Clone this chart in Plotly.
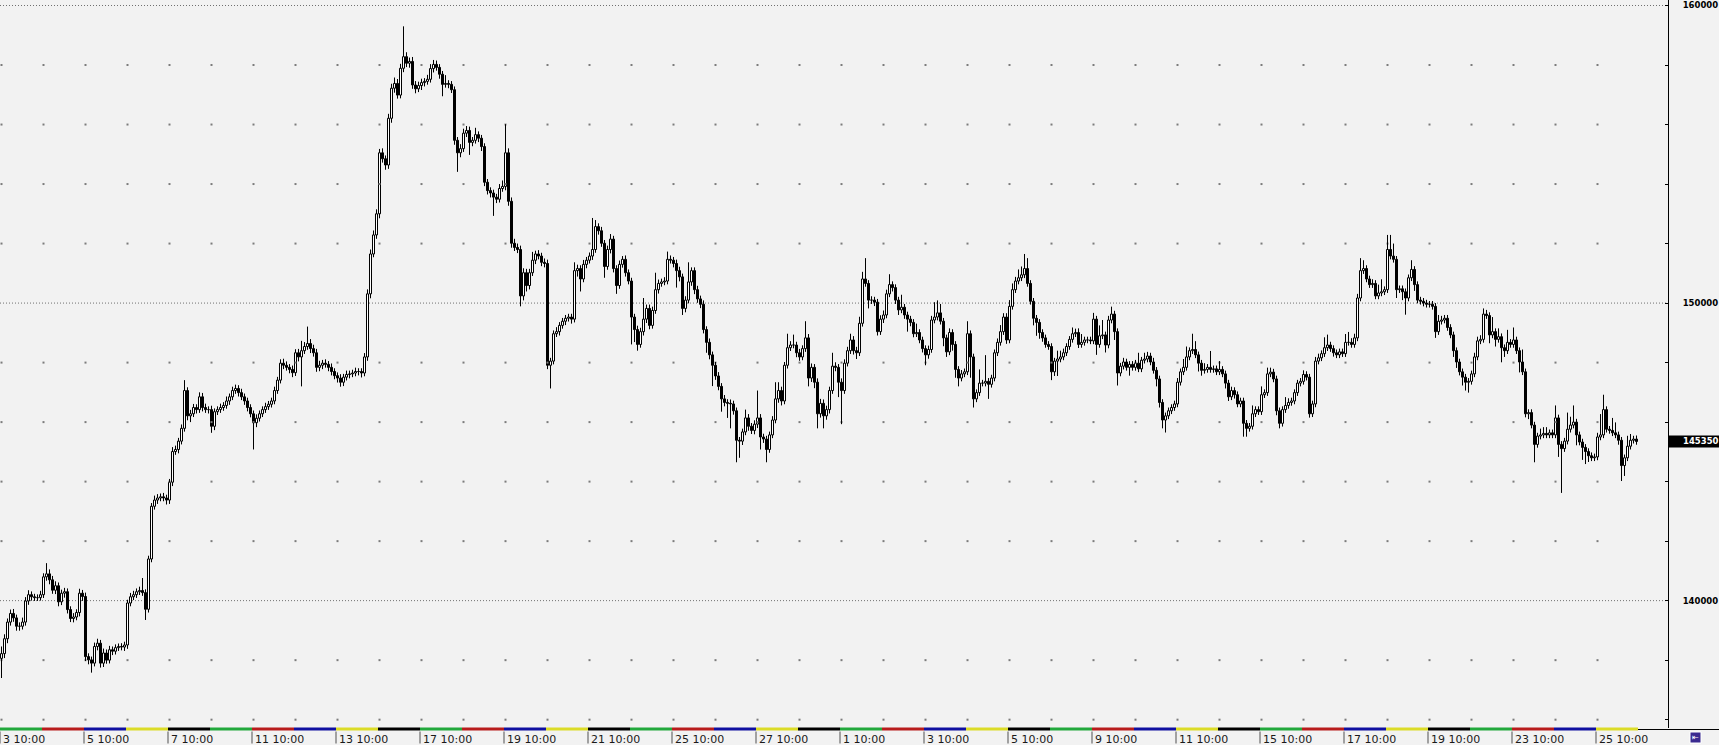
import plotly.graph_objects as go

# ---------------- data (hourly bars, 14 per trading day) -------------
BARS_PER_DAY = 14
SESSION_START = "10:00"
DAY_NUMBERS = [3, 4, 5, 6, 7, 10, 11, 12, 13, 14, 17, 18, 19, 20, 21, 24, 25, 26, 27, 28,
               1, 2, 3, 4, 5, 8, 9, 10, 11, 12, 15, 16, 17, 18, 19, 22, 23, 24, 25]
DAY_COLORS = ["#22a83c", "#b81c1c", "#1010a0", "#dcdc28", "#000000"]  # Mon..Fri strip colours

FIRST_OPEN = 138060
CLOSE = [
    138220, 138720, 139280, 139570, 139420, 139140, 139140, 139280, 139990, 140200, 140130, 140100, 140100, 140200,
    140800, 140900, 140700, 140350, 140500, 139960, 140250, 140300, 139700, 139400, 139450, 139600, 140250, 140140,
    138120, 138010, 137900, 138460, 138570, 137900, 138240, 138000, 138350, 138300, 138420, 138460, 138440, 138510,
    139920, 140130, 140200, 140300, 140340, 140270, 139710, 141400, 143170, 143380, 143450, 143490, 143450, 143380,
    143980, 145010, 145080, 145360, 145790, 147060, 146210, 146280, 146490, 146420, 146850, 146490, 146420, 146420,
    145860, 146350, 146420, 146490, 146560, 146710, 146850, 147060, 147130, 146990, 146850, 146710, 146490, 146280,
    145980, 146130, 146280, 146420, 146520, 146600, 146710, 147060, 147410, 147980, 147910, 147840, 147770, 147660,
    148330, 148190, 148400, 148540, 148640, 148470, 148330, 147840, 147910, 147980, 147940, 147840, 147700, 147560,
    147480, 147340, 147510, 147600, 147620, 147650, 147700, 147700, 147650, 148190, 150310, 151650, 152290, 153000,
    155050, 154850, 154640, 156210, 157220, 157380, 156990, 157890, 158280, 158060, 158120, 157330, 157200, 157310,
    157410, 157450, 157520, 157880, 158020, 157920, 157690, 157350, 157380, 157350, 157170, 155470, 155050, 155190,
    155710, 155800, 155400, 155470, 155660, 155540, 155260, 154060, 153780, 153700, 153560, 153490, 153850, 153920,
    155050, 153420, 152010, 151870, 151800, 150240, 151020, 150590, 151020, 151440, 151650, 151580, 151370, 151330,
    147910, 148050, 148970, 149040, 149250, 149390, 149490, 149530, 149460, 151090, 151160, 150810, 151300, 151440,
    151580, 151800, 152570, 152430, 152010, 151230, 151800, 152150, 151160, 150590, 151300, 151470, 151020, 150740,
    149530, 149110, 148610, 149040, 149460, 149820, 149250, 149750, 150450, 150660, 150710, 150740, 151470, 151440,
    151330, 151090, 150880, 149820, 150100, 150710, 151090, 150450, 150140, 149960, 149110, 148680, 148260, 147910,
    147550, 147200, 146780, 146660, 146630, 146610, 146380, 145390, 145360, 145670, 146140, 145860, 145720, 145930,
    146140, 145500, 145430, 145080, 145570, 146070, 146780, 147060, 146710, 147910, 148500, 148590, 148590, 148330,
    148190, 148470, 148830, 147480, 147840, 147340, 146280, 146630, 146210, 146420, 147060, 147880, 147840, 147340,
    147060, 147980, 148400, 148760, 148400, 148330, 149320, 150810, 150660, 150100, 150100, 150030, 149040, 149460,
    149600, 150310, 150620, 150520, 150100, 149770, 149860, 149600, 149460, 149350, 148970, 149010, 148760, 148470,
    148260, 148440, 149430, 149530, 149670, 149390, 148830, 148360, 149010, 148610, 147770, 147480, 147620, 147690,
    148970, 148190, 146780, 146990, 147310, 147310, 147370, 147270, 147480, 148330, 148680, 149040, 149530, 148760,
    149890, 150450, 150740, 150850, 150950, 151160, 150660, 150060, 149490, 149350, 149010, 148830, 148610, 148540,
    147690, 148050, 148120, 148190, 148330, 148540, 148780, 148970, 149010, 148610, 148680, 148760, 148760, 148730,
    149460, 148610, 148900, 148930, 148590, 149430, 149630, 149040, 147650, 147880, 148020, 147840, 147940, 147840,
    147980, 147790, 148080, 148120, 148220, 148020, 147740, 147450, 146660, 146070, 146210, 146380, 146490, 146610,
    147340, 147690, 147840, 148190, 148400, 148440, 148260, 147980, 147740, 147770, 147840, 147770, 147790, 147690,
    147770, 147620, 147310, 146850, 147060, 146920, 146610, 146710, 145960, 145790, 145860, 146280, 146420, 146350,
    146920, 146990, 147620, 147680, 147450, 146380, 145960, 146420, 146560, 146660, 146710, 146990, 147310, 147370,
    147600, 147510, 146280, 146610, 148050, 148160, 148300, 148500, 148590, 148470, 148330, 148260, 148360, 148300,
    148680, 148680, 148610, 148830, 150170, 151090, 151160, 150810, 150620, 150660, 150240, 150340, 150380, 150450,
    151800, 151580, 151470, 150450, 150480, 150380, 150170, 150850, 151130, 150620, 150100, 150060, 150000, 149960,
    149960, 149890, 149040, 149390, 149430, 149490, 149180, 148930, 148400, 148020, 147690, 147510, 147340, 147370,
    147620, 148190, 148730, 148780, 149630, 149580, 148930, 149040, 148780, 148870, 148500, 148400, 148680, 148610,
    148760, 148400, 148020, 147690, 146280, 146320, 145900, 145250, 145530, 145570, 145620, 145570, 145640, 145570,
    146140, 145250, 145110, 145360, 145760, 145900, 146000, 145570, 145330, 145150, 145010, 144870, 144800, 144830,
    145500, 145570, 146420, 145760, 145720, 145640, 145570, 145390, 144540, 144800, 145190, 145390, 145430, 145350,
]
UPPER_WICK = [
    240, 150, 120, 130, 150, 110, 130, 150, 130, 150, 110, 100, 110, 130,
    120, 360, 150, 130, 150, 110, 120, 130, 110, 110, 130, 110, 150, 110,
    130, 110, 110, 130, 150, 110, 150, 120, 130, 110, 110, 100, 110, 110,
    110, 130, 130, 110, 130, 420, 110, 110, 110, 150, 130, 110, 130, 110,
    110, 150, 130, 110, 130, 350, 110, 130, 120, 110, 150, 130, 130, 110,
    130, 110, 110, 130, 110, 150, 110, 130, 130, 110, 130, 110, 110, 110,
    110, 130, 110, 110, 130, 110, 110, 130, 110, 130, 150, 130, 110, 130,
    120, 130, 330, 150, 570, 150, 130, 130, 150, 110, 130, 110, 130, 110,
    110, 130, 110, 130, 110, 110, 130, 110, 110, 130, 150, 150, 150, 150,
    130, 150, 110, 150, 150, 200, 150, 150, 1020, 150, 130, 150, 130, 130,
    130, 110, 150, 150, 150, 130, 110, 110, 280, 110, 110, 110, 110, 150,
    150, 150, 130, 110, 230, 110, 110, 110, 110, 110, 110, 110, 150, 200,
    960, 150, 130, 150, 130, 130, 150, 130, 130, 280, 110, 130, 110, 130,
    130, 110, 110, 150, 110, 110, 110, 110, 110, 280, 130, 110, 150, 110,
    120, 1060, 220, 110, 130, 110, 130, 170, 110, 110, 130, 110, 130, 110,
    110, 110, 130, 130, 710, 130, 130, 130, 570, 130, 110, 130, 260, 130,
    110, 130, 130, 110, 130, 660, 110, 110, 130, 110, 130, 110, 130, 110,
    110, 130, 110, 130, 110, 130, 110, 110, 110, 110, 280, 130, 110, 130,
    920, 130, 110, 110, 110, 130, 560, 280, 130, 110, 470, 130, 350, 110,
    130, 110, 560, 130, 130, 110, 130, 150, 130, 130, 130, 450, 130, 110,
    130, 130, 130, 210, 130, 130, 220, 240, 700, 110, 130, 110, 110, 130,
    150, 140, 350, 110, 110, 110, 420, 110, 110, 110, 110, 300, 110, 110,
    110, 130, 140, 500, 420, 300, 110, 110, 140, 110, 110, 110, 130, 110,
    420, 110, 110, 110, 460, 110, 880, 110, 110, 110, 130, 220, 130, 130,
    210, 210, 140, 280, 280, 490, 350, 110, 110, 110, 110, 110, 110, 110,
    110, 110, 280, 210, 140, 110, 110, 210, 130, 140, 280, 110, 110, 110,
    210, 110, 350, 500, 110, 140, 250, 110, 110, 110, 140, 110, 110, 110,
    110, 350, 110, 210, 140, 110, 140, 110, 110, 110, 110, 110, 110, 110,
    140, 110, 280, 350, 110, 530, 280, 110, 110, 210, 110, 550, 110, 110,
    280, 110, 110, 110, 130, 110, 110, 110, 110, 110, 110, 280, 110, 110,
    280, 110, 210, 150, 110, 110, 110, 110, 280, 140, 110, 110, 110, 110,
    140, 110, 110, 110, 140, 140, 110, 350, 350, 110, 110, 110, 110, 110,
    280, 350, 140, 140, 140, 420, 280, 110, 110, 140, 110, 280, 420, 110,
    490, 490, 420, 110, 110, 110, 110, 110, 310, 110, 110, 110, 110, 110,
    110, 110, 110, 210, 140, 110, 110, 110, 110, 110, 110, 110, 110, 110,
    110, 140, 140, 140, 190, 140, 110, 490, 110, 280, 110, 110, 420, 110,
    420, 110, 110, 420, 110, 110, 110, 110, 110, 210, 210, 210, 110, 110,
    420, 110, 110, 110, 560, 280, 560, 110, 110, 110, 110, 110, 110, 110,
    140, 700, 500, 110, 110, 420, 350, 110, 110, 110, 350, 210, 110, 120,
]
LOWER_WICK = [
    660, 150, 150, 120, 130, 150, 150, 110, 120, 130, 130, 110, 110, 100,
    110, 130, 150, 120, 130, 150, 110, 150, 130, 120, 130, 110, 130, 150,
    150, 150, 320, 110, 130, 150, 130, 120, 110, 130, 110, 110, 110, 130,
    130, 110, 110, 110, 110, 110, 360, 110, 110, 110, 130, 110, 110, 150,
    130, 130, 110, 130, 110, 110, 150, 210, 110, 130, 110, 130, 110, 130,
    220, 130, 110, 110, 110, 110, 130, 110, 110, 130, 110, 130, 130, 120,
    900, 150, 110, 110, 110, 110, 110, 110, 110, 110, 130, 110, 130, 150,
    110, 150, 990, 110, 110, 150, 130, 150, 130, 130, 110, 130, 130, 120,
    150, 150, 130, 110, 130, 110, 110, 130, 150, 110, 130, 150, 110, 130,
    150, 130, 160, 130, 150, 150, 120, 110, 130, 130, 150, 130, 150, 110,
    150, 130, 110, 110, 130, 110, 150, 400, 110, 130, 110, 150, 640, 150,
    110, 130, 420, 130, 110, 130, 150, 130, 130, 150, 630, 130, 110, 110,
    130, 150, 150, 120, 120, 350, 150, 200, 130, 110, 130, 110, 130, 130,
    130, 780, 110, 110, 130, 110, 130, 110, 150, 110, 200, 420, 110, 130,
    110, 130, 110, 130, 120, 380, 110, 130, 130, 280, 110, 110, 130, 110,
    920, 420, 210, 110, 130, 130, 130, 110, 110, 130, 110, 110, 110, 110,
    130, 570, 150, 220, 130, 110, 130, 150, 130, 130, 130, 350, 150, 700,
    130, 130, 430, 130, 490, 820, 130, 740, 560, 130, 110, 150, 120, 130,
    130, 420, 130, 430, 110, 110, 110, 130, 150, 110, 110, 110, 110, 150,
    130, 110, 110, 280, 130, 200, 490, 130, 420, 130, 130, 110, 130, 500,
    1130, 110, 110, 110, 130, 210, 110, 110, 110, 280, 130, 130, 130, 110,
    130, 110, 110, 130, 130, 170, 110, 130, 420, 130, 120, 110, 110, 130,
    350, 130, 110, 110, 110, 110, 280, 170, 110, 210, 280, 280, 110, 110,
    110, 700, 290, 110, 110, 110, 110, 490, 110, 110, 110, 110, 110, 130,
    110, 110, 110, 110, 110, 110, 110, 110, 240, 450, 210, 130, 110, 110,
    280, 140, 500, 110, 110, 110, 110, 110, 110, 120, 110, 110, 110, 110,
    110, 350, 110, 110, 250, 110, 110, 280, 420, 110, 110, 110, 280, 110,
    110, 110, 110, 110, 110, 110, 110, 250, 170, 280, 420, 110, 110, 110,
    110, 110, 110, 110, 110, 110, 110, 280, 180, 110, 110, 110, 110, 110,
    110, 110, 180, 140, 110, 130, 110, 110, 450, 280, 110, 110, 110, 110,
    110, 110, 110, 110, 110, 150, 170, 110, 110, 110, 110, 110, 110, 110,
    110, 110, 130, 110, 110, 110, 110, 110, 110, 110, 130, 110, 110, 110,
    110, 110, 110, 110, 110, 110, 110, 110, 110, 110, 110, 110, 110, 110,
    110, 110, 110, 280, 110, 280, 560, 110, 110, 210, 110, 110, 110, 110,
    110, 110, 210, 110, 110, 110, 110, 110, 210, 200, 120, 280, 280, 350,
    110, 110, 110, 110, 110, 110, 280, 110, 240, 110, 490, 210, 110, 110,
    110, 110, 350, 110, 120, 180, 110, 600, 110, 110, 110, 110, 110, 110,
    110, 420, 1490, 110, 110, 110, 110, 350, 110, 420, 420, 210, 110, 110,
    110, 110, 110, 110, 110, 110, 110, 150, 520, 350, 110, 110, 110, 110,
]
Y_TICKS = list(range(136000, 160001, 2000))
Y_LABELED = [140000, 150000, 160000]
Y_RANGE = [135720, 160185]
X_RANGE = [-0.5, 555.5]

assert len(CLOSE) == len(UPPER_WICK) == len(LOWER_WICK) == BARS_PER_DAY * len(DAY_NUMBERS)

# ---------------- build OHLC ----------------
n = len(CLOSE)
xs = list(range(n))
opens = [FIRST_OPEN] + CLOSE[:-1]          # continuous hourly bars: open = previous close
highs = [max(o, c) + u for o, c, u in zip(opens, CLOSE, UPPER_WICK)]
lows = [min(o, c) - l for o, c, l in zip(opens, CLOSE, LOWER_WICK)]
last_price = CLOSE[-1]

BG = "#f2f2f2"
W, H = 1719, 745
M_R, M_B = 51, 17
plot_w = W - M_R
plot_h = H - M_B

fig = go.Figure()

# grid dots at day starts x 2000-point levels
day_starts = [d * BARS_PER_DAY for d in range(len(DAY_NUMBERS))]
dot_levels = [v for v in Y_TICKS if v not in Y_LABELED]
fig.add_trace(go.Scatter(
    x=[x for x in day_starts for _ in dot_levels],
    y=[v for _ in day_starts for v in dot_levels],
    mode="markers",
    marker=dict(symbol="square", size=2, color="#7c7c7c", line=dict(width=0)),
    hoverinfo="skip", showlegend=False,
))

# candle bodies (bars on the data axes)
up = [i for i in xs if CLOSE[i] >= opens[i]]
dn = [i for i in xs if CLOSE[i] < opens[i]]
fig.add_trace(go.Bar(
    x=up, base=[opens[i] for i in up], y=[CLOSE[i] - opens[i] for i in up],
    width=0.667, marker=dict(color="#ffffff", line=dict(color="#000000", width=1)),
    hoverinfo="skip", showlegend=False,
))
fig.add_trace(go.Bar(
    x=dn, base=[CLOSE[i] for i in dn], y=[opens[i] - CLOSE[i] for i in dn],
    width=0.667, marker=dict(color="#000000", line=dict(color="#000000", width=1)),
    hoverinfo="skip", showlegend=False,
))
# wicks (split so they don't cross white bodies)
wx, wy = [], []
for i in xs:
    lo_b, hi_b = min(opens[i], CLOSE[i]), max(opens[i], CLOSE[i])
    wx += [i, i, None, i, i, None]
    wy += [lows[i], lo_b, None, hi_b, highs[i], None]
fig.add_trace(go.Scatter(x=wx, y=wy, mode="lines", line=dict(color="#000000", width=1),
                         hoverinfo="skip", showlegend=False, connectgaps=False))

shapes = []
# dotted horizontal grid lines
for v in Y_LABELED:
    shapes.append(dict(type="line", xref="paper", yref="y", x0=0, x1=1, y0=v, y1=v,
                       line=dict(color="#707070", width=1, dash="1px,2px"), layer="below"))
# bottom black base line and per-day coloured strip
shapes.append(dict(type="line", xref="paper", yref="paper", x0=0, x1=W / plot_w,
                   y0=-1.5 / plot_h, y1=-1.5 / plot_h, line=dict(color="#000000", width=1)))
for d in range(len(DAY_NUMBERS)):
    shapes.append(dict(type="rect", xref="x", yref="paper",
                       x0=d * BARS_PER_DAY - 0.5, x1=d * BARS_PER_DAY + BARS_PER_DAY - 0.5,
                       y0=-2.5 / plot_h, y1=0.5 / plot_h,
                       fillcolor=DAY_COLORS[d % 5], line=dict(width=0)))

annotations = []
# time labels every 2 trading days
for d in range(0, len(DAY_NUMBERS), 2):
    b = d * BARS_PER_DAY
    shapes.append(dict(type="line", xref="x", yref="paper", x0=b - 0.5, x1=b - 0.5,
                       y0=-3.5 / plot_h, y1=-15.5 / plot_h, line=dict(color="#505050", width=1)))
    annotations.append(dict(x=b - 0.5, y=0, xref="x", yref="paper", xanchor="left", yanchor="top",
                            xshift=1, yshift=-3, showarrow=False,
                            text=f"{DAY_NUMBERS[d]} {SESSION_START}",
                            font=dict(family="DejaVu Sans", size=11, color="#1a1a1a")))

# last price marker on the price axis
px_per_pt = plot_h / (Y_RANGE[1] - Y_RANGE[0])
half = 6 / px_per_pt
shapes.append(dict(type="rect", xref="paper", yref="y", x0=1, x1=W / plot_w,
                   y0=last_price - half, y1=last_price + half,
                   fillcolor="#000000", line=dict(width=0)))
annotations.append(dict(x=1, y=last_price, xref="paper", yref="y", xanchor="left", yanchor="middle",
                        xshift=13, showarrow=False, text=f"{last_price}",
                        font=dict(family="DejaVu Sans", size=8.5, color="#ffffff", weight="bold")))

# small "shift" button at bottom right
shapes.append(dict(type="rect", xref="paper", yref="paper",
                   x0=1 + 22 / plot_w, x1=1 + 33 / plot_w, y0=-4 / plot_h, y1=-15 / plot_h,
                   fillcolor="#3a2a90", line=dict(color="#ffffff", width=1)))
annotations.append(dict(x=1 + 27.5 / plot_w, y=-9.5 / plot_h, xref="paper", yref="paper",
                        xanchor="center", yanchor="middle", showarrow=False, text="⇤",
                        font=dict(family="DejaVu Sans", size=8, color="#ffffff")))

fig.update_layout(
    width=W, height=H, autosize=False,
    margin=dict(l=0, r=M_R, t=0, b=M_B, pad=0),
    paper_bgcolor=BG, plot_bgcolor=BG,
    hovermode=False, showlegend=False, barmode="overlay",
    shapes=shapes, annotations=annotations,
    xaxis=dict(range=X_RANGE, showgrid=False, zeroline=False, showline=False,
               showticklabels=False, ticks="", fixedrange=True),
    yaxis=dict(side="right", range=Y_RANGE, tickmode="array", tickvals=Y_TICKS,
               ticktext=[str(v) if v in Y_LABELED else "" for v in Y_TICKS],
               ticks="inside", ticklen=3, tickwidth=1, tickcolor="#000000",
               showline=True, linecolor="#000000", linewidth=1, mirror=False,
               showgrid=False, zeroline=False, fixedrange=True, ticklabelstandoff=12,
               tickfont=dict(family="DejaVu Sans", size=8.5, color="#000000", weight="bold")),
)

fig.write_html("out.html",
               config={"displayModeBar": False, "staticPlot": True},
               post_script="document.body.style.margin='0px';"
                           "document.body.style.overflow='hidden';"
                           "document.body.style.background='" + BG + "';")
